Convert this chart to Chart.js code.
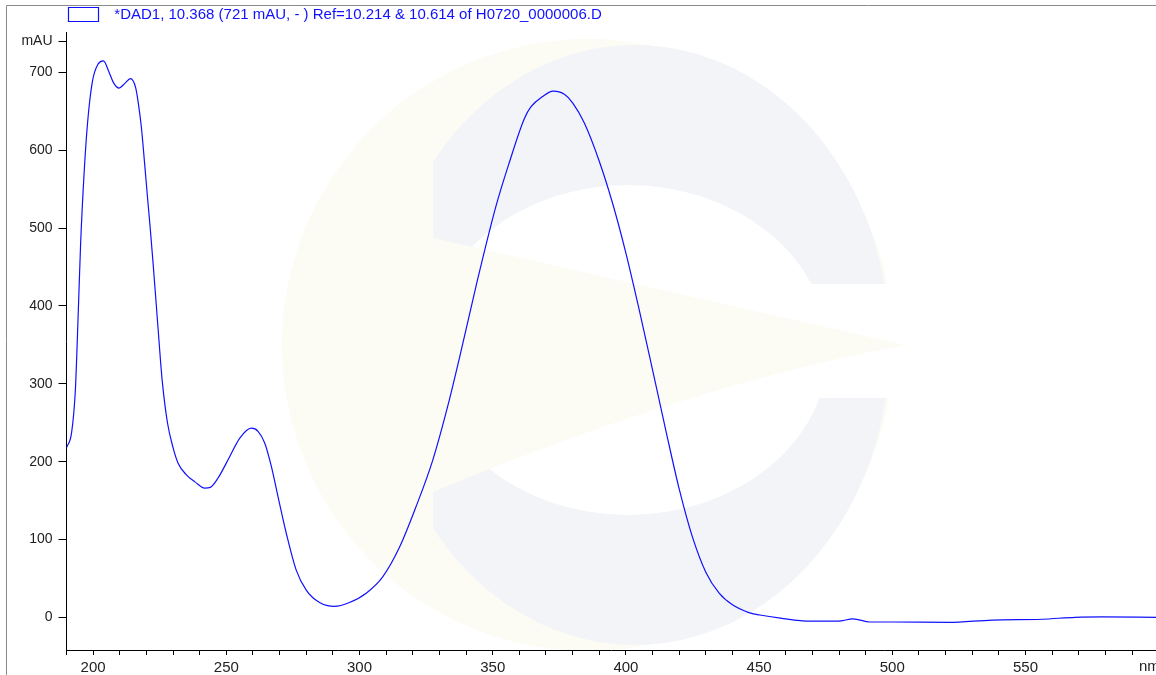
<!DOCTYPE html>
<html>
<head>
<meta charset="utf-8">
<script src="https://cdn.jsdelivr.net/npm/chart.js@4.4.1/dist/chart.umd.min.js"></script>
<style>
  html, body { margin: 0; padding: 0; background: #fff; }
  canvas { display: block; }
</style>
</head>
<body>
<canvas id="spectrum" width="1156" height="675"></canvas>
<script>
// trace label shown in the legend line
const traceTitle = '*DAD1, 10.368 (721 mAU, - ) Ref=10.214 & 10.614 of H0720_0000006.D';

// spectrum (nm, mAU)
const wavelengths = [
  190.0, 191.9, 193.3, 194.3, 195.3, 196.6, 197.9, 199.7, 201.9, 203.9,
  205.9, 207.8, 209.7, 211.9, 214.0, 216.0, 216.9, 218.1, 219.4, 220.4,
  221.5, 222.5, 224.4, 225.9, 227.9, 230.0, 231.9, 235.0, 238.2,
  241.9, 244.0, 246.9, 251.2, 255.0, 259.4, 261.9, 264.4, 266.9, 269.4,
  272.5, 276.2, 280.0, 285.0, 290.6, 296.2, 302.5, 308.7, 315.0, 321.2,
  327.5, 333.7, 337.5, 343.7, 351.2, 356.2, 361.9, 364.4, 368.7, 372.7,
  376.9, 380.0, 384.4, 390.0, 395.0, 400.0, 405.0, 410.0, 415.0, 420.0,
  425.0, 430.0, 435.0, 440.0, 446.2, 450.3, 458.0, 469.0, 479.7, 485.3,
  491.5, 500.0, 521.2, 537.5, 556.2, 568.7, 578.7, 599.0
];
const absorbance = [
  218, 237, 290, 380, 480, 570, 635, 688, 711, 715,
  701, 686, 680, 686, 692, 680, 662, 630, 580, 540,
  497, 455, 370, 305, 250, 218, 198, 183, 174,
  166, 167, 179, 206, 230, 243, 239, 224, 194, 155,
  108, 61, 35, 19, 14, 19, 31, 52, 90, 142,
  202, 279, 333, 425, 528, 584, 641, 656, 669, 676,
  672, 661, 635, 586, 532, 468, 395, 318, 240, 165,
  103, 58, 31, 16, 6, 3, -1, -5, -5, -2,
  -6, -6, -6.5, -3.5, -2.5, 0, 0.5, 0
];

// axes
const xTickValues = [190, 200, 210, 220, 230, 240, 250, 260, 270, 280, 290, 300, 310, 320, 330, 340, 350, 360, 370, 380, 390, 400, 410, 420, 430, 440, 450, 460, 470, 480, 490, 500, 510, 520, 530, 540, 550, 560, 570, 580, 590];
const xLabelValues = [200, 250, 300, 350, 400, 450, 500, 550];
const xUnit = 'nm';
const yMajorValues = [0, 100, 200, 300, 400, 500, 600, 700, 740];
const yMajorLabels = ['0', '100', '200', '300', '400', '500', '600', '700', 'mAU'];
const yMinorValues = [-40, -20, 0, 20, 40, 60, 80, 100, 120, 140, 160, 180, 200, 220, 240, 260, 280, 300, 320, 340, 360, 380, 400, 420, 440, 460, 480, 500, 520, 540, 560, 580, 600, 620, 640, 660, 680, 700, 720, 740];

const points = wavelengths.map((w, i) => ({ x: w, y: absorbance[i] }));

// faint company logo behind the plot + the grey frame
const backdrop = {
  id: 'backdrop',
  beforeDraw(chart) {
    const ctx = chart.ctx;
    ctx.save();
    ctx.fillStyle = '#ffffff';
    ctx.fillRect(0, 0, chart.width, chart.height);

    ctx.fillStyle = '#fcfcf5';
    ctx.beginPath();
    ctx.arc(588, 345, 306, 0, Math.PI * 2);
    ctx.fill();

    ctx.save();
    ctx.beginPath();
    ctx.rect(433, 0, 723, 675);
    ctx.clip();
    ctx.fillStyle = '#f2f4f7';
    ctx.beginPath();
    ctx.ellipse(635, 345, 255, 300, 0, 0, Math.PI * 2);
    ctx.fill();
    ctx.fillStyle = '#ffffff';
    ctx.beginPath();
    ctx.ellipse(628, 350, 200, 165, 0, 0, Math.PI * 2);
    ctx.fill();
    ctx.fillRect(640, 284, 270, 114);
    ctx.restore();

    // light beam crossing the logo
    ctx.fillStyle = '#fcfcf5';
    ctx.beginPath();
    ctx.moveTo(433, 238);
    ctx.lineTo(905, 345);
    ctx.quadraticCurveTo(690, 385, 433, 492);
    ctx.closePath();
    ctx.fill();

    ctx.strokeStyle = '#8a8a8a';
    ctx.lineWidth = 1;
    ctx.beginPath();
    ctx.moveTo(6.5, 675);
    ctx.lineTo(6.5, 5.5);
    ctx.lineTo(1156, 5.5);
    ctx.stroke();
    ctx.restore();
  },
  afterDraw(chart) {
    const ctx = chart.ctx;
    const x = chart.scales.x;
    ctx.save();
    ctx.font = '15px "Liberation Sans", Arial, sans-serif';
    ctx.fillStyle = '#222';
    ctx.textAlign = 'left';
    ctx.textBaseline = 'top';
    ctx.fillText(xUnit, x.right - 17, x.top + 9);
    ctx.restore();
  }
};

new Chart(document.getElementById('spectrum'), {
  type: 'line',
  data: {
    datasets: [{
      label: '  ' + traceTitle,
      data: points,
      borderColor: '#1010ff',
      backgroundColor: '#ffffff',
      borderWidth: 1.2,
      pointRadius: 0,
      fill: false,
      cubicInterpolationMode: 'monotone'
    }]
  },
  options: {
    responsive: false,
    animation: false,
    devicePixelRatio: 1,
    layout: { padding: { top: 5, left: 0, right: 0, bottom: 0 } },
    plugins: {
      legend: {
        display: true,
        position: 'top',
        align: 'start',
        fullSize: false,
        labels: {
          boxWidth: 30,
          boxHeight: 14,
          padding: 2,
          color: '#1010ff',
          font: { family: '"Liberation Sans", Arial, sans-serif', size: 15 }
        }
      },
      tooltip: { enabled: false }
    },
    scales: {
      x: {
        type: 'linear',
        min: 190,
        max: 599,
        afterBuildTicks: s => { s.ticks = xTickValues.map(v => ({ value: v })); },
        afterFit: s => { s.height = 25; },
        border: { display: true, color: '#000', width: 1 },
        grid: { display: true, drawOnChartArea: false, tickLength: 5, tickColor: '#000', tickWidth: 1 },
        ticks: {
          autoSkip: false,
          maxRotation: 0,
          padding: 4,
          color: '#222',
          font: { family: '"Liberation Sans", Arial, sans-serif', size: 15 },
          callback: v => xLabelValues.includes(v) ? String(v) : ''
        }
      },
      yMajor: {
        type: 'linear',
        position: 'left',
        min: -42,
        max: 752,
        afterBuildTicks: s => { s.ticks = yMajorValues.map(v => ({ value: v })); },
        afterFit: s => { s.width = 66.5; },
        border: { display: true, color: '#000', width: 1 },
        grid: { display: true, drawOnChartArea: false, tickLength: 8, tickColor: '#000', tickWidth: 1 },
        ticks: {
          autoSkip: false,
          padding: 6,
          color: '#222',
          font: { family: '"Liberation Sans", Arial, sans-serif', size: 14 },
          callback: v => yMajorLabels[yMajorValues.indexOf(v)]
        }
      },
      y: {
        type: 'linear',
        position: 'left',
        min: -42,
        max: 752,
        afterBuildTicks: s => { s.ticks = yMinorValues.map(v => ({ value: v })); },
        afterFit: s => { s.width = 0; },
        border: { display: false },
        grid: { display: true, drawOnChartArea: false, tickLength: 4, tickColor: '#000', tickWidth: 1 },
        ticks: { display: false }
      }
    }
  },
  plugins: [backdrop]
});
</script>
</body>
</html>
